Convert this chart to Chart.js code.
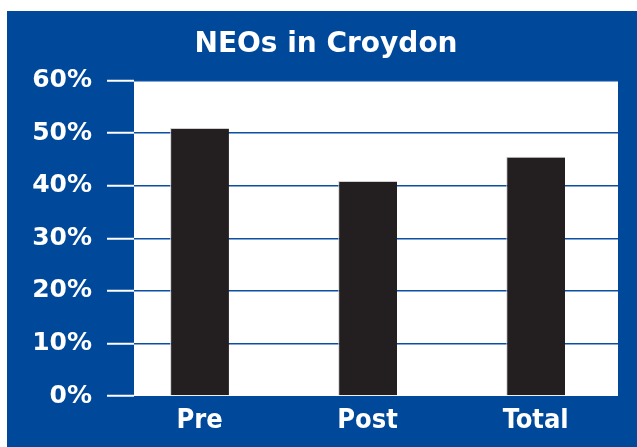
<!DOCTYPE html>
<html>
<head>
<meta charset="utf-8">
<script src="https://cdn.jsdelivr.net/npm/chart.js@4/dist/chart.umd.min.js"></script>
<style>
    html, body { margin: 0; padding: 0; background: #ffffff; }
    .chart-wrapper {
        position: absolute;
        left: 7px;
        top: 11px;
        width: 630px;
        height: 436px;
        background: #00489a;
    }
</style>
</head>
<body>
<div class="chart-wrapper"><canvas id="neoChart"></canvas></div>
<script>
const categories = ['Pre', 'Post', 'Total'];
const shareValues = [51, 40.9, 45.5];
const yTicks = [0, 10, 20, 30, 40, 50, 60];

const fontFamily = '"DejaVu Sans", Verdana, sans-serif';
const narrowFamily = '"DejaVu Sans Condensed", "DejaVu Sans", sans-serif';

// white plot background behind the bars and gridlines
const plotBackground = {
    id: 'plotBackground',
    beforeDraw(chart) {
        const { ctx, chartArea } = chart;
        ctx.save();
        ctx.fillStyle = '#ffffff';
        ctx.fillRect(chartArea.left, chartArea.top, chartArea.right - chartArea.left, chartArea.bottom - chartArea.top);
        ctx.restore();
    }
};

// centre the title over the whole blue panel rather than the padded box
const titleShift = {
    id: 'titleShift',
    afterLayout(chart) {
        if (chart.titleBlock) {
            chart.titleBlock.left += 27;
        }
    }
};

const ctx = document.getElementById('neoChart').getContext('2d');
new Chart(ctx, {
    type: 'bar',
    data: {
        datasets: [{
            label: 'NEOs',
            data: shareValues.map((v, i) => ({ x: i, y: v })),
            backgroundColor: '#231f20',
            borderColor: '#cfcfcf',
            borderWidth: { top: 1, left: 1, right: 0, bottom: 0 },
            categoryPercentage: 1,
            barPercentage: 0.35
        }]
    },
    options: {
        responsive: true,
        maintainAspectRatio: false,
        animation: false,
        layout: { padding: { left: 0, right: 19, top: 0, bottom: 0 } },
        plugins: {
            legend: { display: false },
            tooltip: { enabled: false },
            title: {
                display: true,
                text: 'NEOs in Croydon',
                color: '#ffffff',
                font: { family: fontFamily, size: 28, weight: 'bold' },
                padding: { top: 17, bottom: 19 }
            }
        },
        scales: {
            x: {
                type: 'linear',
                offset: false,
                bounds: 'data',
                min: -0.39,
                max: 2.49,
                afterBuildTicks: scale => {
                    scale.ticks = categories.map((_, i) => ({ value: i }));
                },
                afterFit: scale => { scale.height = 51; },
                grid: { display: false, drawTicks: false },
                border: { display: false },
                ticks: {
                    color: '#ffffff',
                    padding: 9,
                    font: { family: narrowFamily, size: 27, weight: 'bold' },
                    callback: value => categories[value]
                }
            },
            y: {
                min: 0,
                max: 60,
                afterBuildTicks: scale => {
                    scale.ticks = yTicks.map(v => ({ value: v }));
                },
                afterFit: scale => { scale.width = 127; },
                border: { display: false },
                grid: {
                    color: c => c.tick && c.tick.value === 0 ? 'rgba(0,0,0,0)' : '#0a4fa3',
                    lineWidth: 1.5,
                    tickColor: '#ffffff',
                    tickLength: 27,
                    tickWidth: 2
                },
                ticks: {
                    color: '#ffffff',
                    padding: 15,
                    font: { family: fontFamily, size: 25, weight: 'bold' },
                    callback: value => value + '%'
                }
            }
        }
    },
    plugins: [plotBackground, titleShift]
});
</script>
</body>
</html>
